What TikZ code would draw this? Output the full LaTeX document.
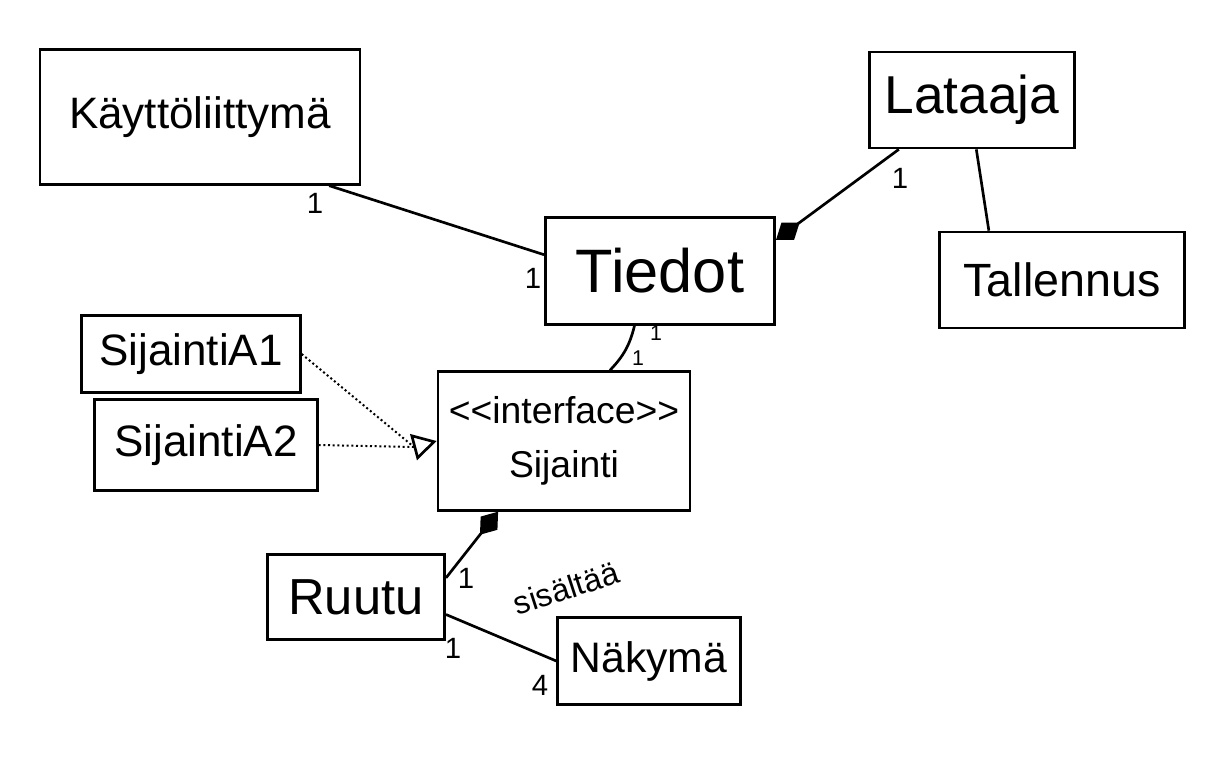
\documentclass[tikz,border=0pt]{standalone}
\usepackage{fontspec}
\setmainfont{Liberation Sans}
\usetikzlibrary{arrows.meta}

\tikzset{every picture/.style={line width=2pt}}
\tikzset{
  klass/.style={draw, line width=2pt, inner sep=0.75pt, align=center},
  mult/.style={inner sep=0.75pt, font=\fontsize{22}{24}\selectfont},
  assoc/.style={line width=2pt},
  composite/.style={line width=2pt, -{Diamond[length=22pt, width=16pt]}},
  realize/.style={line width=1.5pt, dotted},
  generalize/.style={line width=2pt, -{Triangle[open, length=18pt, width=20pt]}}
}

\begin{document}
\begin{tikzpicture}[x=0.75pt,y=0.75pt,yscale=-1,xscale=1]
\useasboundingbox (0,0) rectangle (1216,768);

%Shape: Rectangle [Kayttoliittyma]
\node[klass, minimum width=240pt, minimum height=101pt, font=\fontsize{33}{36}\selectfont] (kaytto) at (200,117) {Käyttöliittymä};
%Shape: Rectangle [Lataaja]
\node[klass, minimum width=154pt, minimum height=72pt, font=\fontsize{40}{44}\selectfont] (lataaja) at (972,100) {Lataaja};
%Shape: Rectangle [Tiedot]
\node[klass, minimum width=172pt, minimum height=80pt, font=\fontsize{46}{50}\selectfont] (tiedot) at (660,271) {Tiedot};
%Shape: Rectangle [Tallennus]
\node[klass, minimum width=184pt, minimum height=72pt, font=\fontsize{35}{38}\selectfont] (tallennus) at (1062,280) {Tallennus};
%Shape: Rectangle [SijaintiA1]
\node[klass, minimum width=164pt, minimum height=58pt, font=\fontsize{33}{36}\selectfont] (sijA1) at (191,354) {SijaintiA1};
%Shape: Rectangle [SijaintiA2]
\node[klass, minimum width=167pt, minimum height=68pt, font=\fontsize{33}{36}\selectfont] (sijA2) at (206,445) {SijaintiA2};
%Shape: Rectangle [Sijainti]
\node[klass, minimum width=189pt, minimum height=104pt, font=\fontsize{28}{40}\selectfont] (sijainti) at (564,441) {{<}{<}interface{>}{>}\\Sijainti};
%Shape: Rectangle [Ruutu]
\node[klass, minimum width=133pt, minimum height=64pt, font=\fontsize{38}{42}\selectfont] (ruutu) at (356,597) {Ruutu};
%Shape: Rectangle [Nakyma]
\node[klass, minimum width=137pt, minimum height=65pt, font=\fontsize{32}{36}\selectfont] (nakyma) at (649,661) {Näkymä};

%Straight Lines
\draw[assoc] (kaytto.-28) -- (tiedot.172);
\draw[composite] (lataaja.214) -- (tiedot.15);
\draw[assoc] (lataaja.-85) -- (tallennus.146);
\draw[assoc] (tiedot.-115) to[bend right=15] (sijainti.57);
\coordinate (tri) at (414,447);
\draw[realize] (sijA1.east) -- (tri);
\draw[realize] (sijA2.east) -- (tri);
\draw[generalize] (tri) -- (sijainti.west);
\draw[composite] (ruutu.12) -- (sijainti.-133);
\draw[assoc] (ruutu.-11) -- (nakyma.west);

% Text Node
\node[mult] (m1) at (315,203) {1};
\node[mult] (m2) at (533,278) {1};
\node[mult] (m3) at (900,178) {1};
\node[mult, font=\fontsize{16}{18}\selectfont] (m4) at (656,333) {1};
\node[mult, font=\fontsize{16}{18}\selectfont] (m8) at (638,358) {1};
\node[mult] (m5) at (466,578) {1};
\node[mult] (m6) at (453,648) {1};
\node[mult] (m7) at (540,685) {4};
\node[mult, rotate=18, font=\fontsize{24}{26}\selectfont] (sis) at (566,588) {sisältää};

\end{tikzpicture}
\end{document}
